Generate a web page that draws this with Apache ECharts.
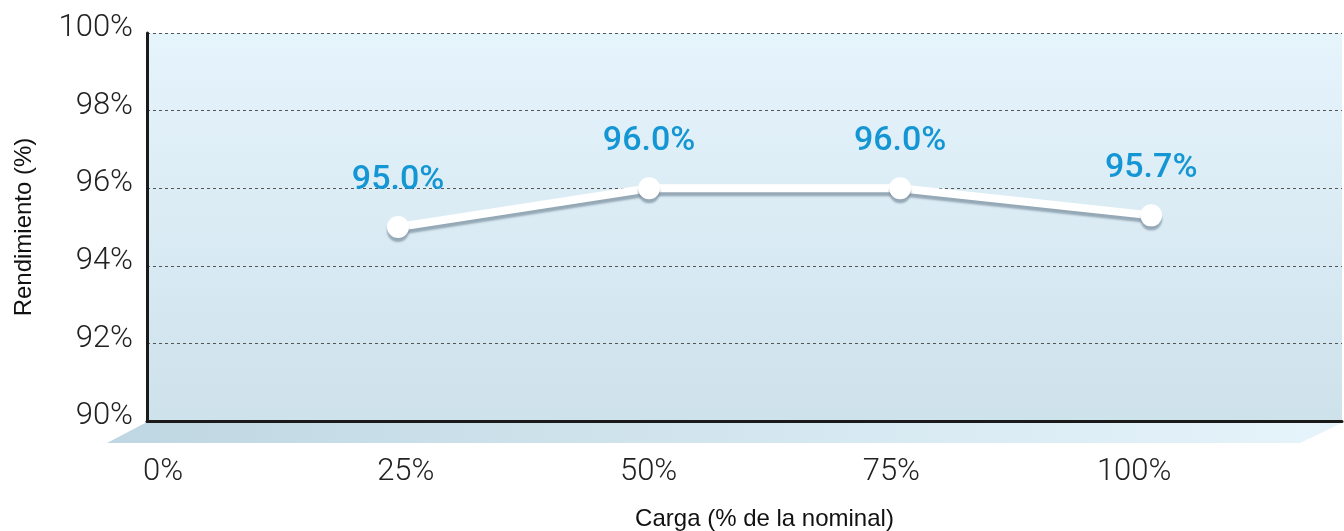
<!DOCTYPE html>
<html>
<head>
<meta charset="utf-8">
<script src="https://cdn.jsdelivr.net/npm/echarts@6/dist/echarts.min.js"></script>
<style>
  html, body { margin: 0; padding: 0; background: #fff; }
  #main { width: 1344px; height: 531px; }
</style>
</head>
<body>
<div id="main"></div>
<script>
// load (% of nominal) and efficiency
const loads = [25, 50, 75, 100];
const efficiency = [95.0, 96.0, 96.0, 95.3];
const labelTexts = ['95.0%', '96.0%', '96.0%', '95.7%'];
const xTicks = [0, 25, 50, 75, 100];

var myChart = echarts.init(document.getElementById('main'));

const lightFont = 'Roboto';

var option = {
  animation: false,
  grid: {
    left: 147, right: 2, top: 33, bottom: 110,
    outerBoundsMode: 'none',
    show: true,
    borderWidth: 0,
    backgroundColor: {
      type: 'linear', x: 0, y: 0, x2: 0, y2: 1,
      colorStops: [
        { offset: 0, color: '#e6f4fc' },
        { offset: 1, color: '#cee2ec' }
      ]
    }
  },
  // floor under the plot
  graphic: [{
    type: 'polygon',
    z: -1,
    shape: { points: [[107, 443], [147, 422], [1344, 422], [1300, 443]] },
    style: {
      fill: {
        type: 'linear', x: 0, y: 0, x2: 1, y2: 0,
        colorStops: [
          { offset: 0, color: '#bfd7e2' },
          { offset: 1, color: '#e6f4fb' }
        ]
      }
    }
  }],
  xAxis: [
    {
      type: 'value', min: 0, max: 119,
      axisLine: { show: true, lineStyle: { color: '#1a1a1a', width: 3 } },
      axisTick: { show: false },
      axisLabel: { show: false },
      splitLine: { show: false }
    },
    {
      type: 'value', min: -1.65, max: 121.4,
      position: 'bottom',
      axisLine: { show: false },
      axisTick: { show: false },
      splitLine: { show: false },
      axisLabel: {
        customValues: xTicks,
        formatter: '{value}%',
        margin: 36,
        fontFamily: lightFont, fontWeight: 300,
        fontSize: 31, color: '#222'
      },
      name: 'Carga (% de la nominal)',
      nameLocation: 'middle',
      nameGap: 86,
      nameTextStyle: { fontFamily: 'Liberation Sans', fontSize: 24, color: '#111', padding: [0, 0, 0, 40] }
    }
  ],
  yAxis: {
    type: 'value', min: 90, max: 100, interval: 2,
    axisLine: { show: true, lineStyle: { color: '#1a1a1a', width: 3 } },
    axisTick: { show: false },
    axisLabel: {
      formatter: '{value}%',
      margin: 14,
      verticalAlign: 'bottom',
      lineHeight: 9,
      fontFamily: lightFont, fontWeight: 300,
      fontSize: 31, color: '#222'
    },
    splitLine: { lineStyle: { color: '#555', type: [3, 3], width: 1 } },
    name: 'Rendimiento (%)',
    nameLocation: 'middle',
    nameGap: 111,
    nameTextStyle: { fontFamily: 'Liberation Sans', fontSize: 24, color: '#111' }
  },
  series: [{
    type: 'line',
    xAxisIndex: 0,
    data: loads.map((l, i) => [l, efficiency[i]]),
    symbol: 'circle',
    symbolSize: 22,
    lineStyle: {
      color: '#fff', width: 8,
      shadowColor: 'rgba(120,140,155,0.7)', shadowOffsetY: 4, shadowBlur: 2
    },
    itemStyle: {
      color: '#fff', borderWidth: 0,
      shadowColor: 'rgba(120,140,155,0.7)', shadowOffsetY: 4, shadowBlur: 2
    },
    label: {
      show: true,
      position: 'top',
      distance: 19,
      formatter: p => labelTexts[p.dataIndex],
      fontFamily: 'Roboto', fontWeight: 500,
      fontSize: 34, color: '#1596d4'
    },
    z: 5
  }]
};

myChart.setOption(option);
</script>
</body>
</html>
